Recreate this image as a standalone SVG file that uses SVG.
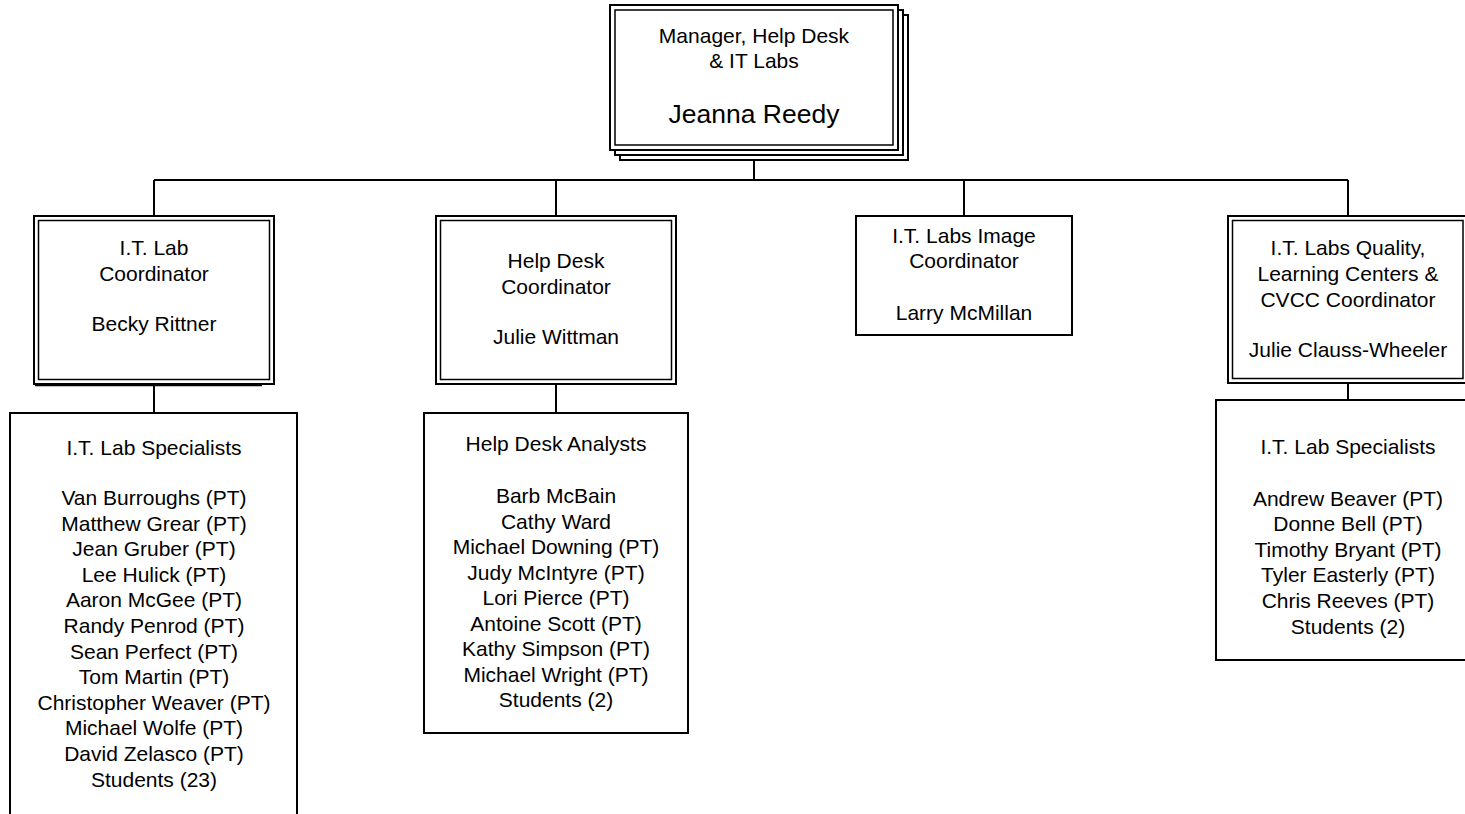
<svg xmlns="http://www.w3.org/2000/svg" width="1465" height="814" viewBox="0 0 1465 814">
<style>
text{font-family:"Liberation Sans",Arial,sans-serif;font-size:21px;fill:#000;text-anchor:middle}
.big{font-size:26.5px}
.o{fill:#fff;stroke:#000;stroke-width:2}
.i{fill:none;stroke:#000;stroke-width:1.5}
.c{fill:none;stroke:#000;stroke-width:2}
</style>
<rect width="1465" height="814" fill="#fff"/>
<g id="connectors">
<path class="c" d="M754 160V180M154 180H1348M154 180V216M556 180V216M964 180V216M1348 180V216M154 384V413M556 384V413M1348 383V400"/>
</g>
<g id="manager">
<rect class="o" x="620" y="15" width="288" height="145"/>
<rect class="o" x="615" y="10" width="288" height="145"/>
<rect class="o" x="610" y="5" width="288" height="145"/>
<rect class="i" x="615" y="10" width="278" height="135"/>
<text x="754" y="43">Manager, Help Desk</text>
<text x="754" y="68">&amp; IT Labs</text>
<text class="big" x="754" y="123">Jeanna Reedy</text>
</g>
<g id="lab-coordinator">
<rect class="o" x="34" y="216" width="240" height="168"/>
<rect class="i" x="38.5" y="220.5" width="231" height="159"/>
<path class="i" d="M35 385.5H262"/>
<text x="154" y="255">I.T. Lab</text>
<text x="154" y="281">Coordinator</text>
<text x="154" y="331">Becky Rittner</text>
</g>
<g id="helpdesk-coordinator">
<rect class="o" x="436" y="216" width="240" height="168"/>
<rect class="i" x="440.5" y="220.5" width="231" height="159"/>
<text x="556" y="268">Help Desk</text>
<text x="556" y="294">Coordinator</text>
<text x="556" y="344">Julie Wittman</text>
</g>
<g id="image-coordinator">
<rect class="o" x="856" y="216" width="216" height="119"/>
<text x="964" y="243">I.T. Labs Image</text>
<text x="964" y="268">Coordinator</text>
<text x="964" y="320">Larry McMillan</text>
</g>
<g id="quality-coordinator">
<rect class="o" x="1228" y="216" width="240" height="167"/>
<rect class="i" x="1232.5" y="220.5" width="230.5" height="158"/>
<text x="1348" y="255">I.T. Labs Quality,</text>
<text x="1348" y="281">Learning Centers &amp;</text>
<text x="1348" y="307">CVCC Coordinator</text>
<text x="1348" y="357">Julie Clauss-Wheeler</text>
</g>
<g id="lab-specialists-1">
<rect class="o" x="10" y="413" width="287" height="420"/>
<text x="154" y="455">I.T. Lab Specialists</text>
<text x="154" y="505">Van Burroughs (PT)</text>
<text x="154" y="530.6">Matthew Grear (PT)</text>
<text x="154" y="556.2">Jean Gruber (PT)</text>
<text x="154" y="581.8">Lee Hulick (PT)</text>
<text x="154" y="607.4">Aaron McGee (PT)</text>
<text x="154" y="633">Randy Penrod (PT)</text>
<text x="154" y="658.6">Sean Perfect (PT)</text>
<text x="154" y="684.2">Tom Martin (PT)</text>
<text x="154" y="709.8">Christopher Weaver (PT)</text>
<text x="154" y="735.4">Michael Wolfe (PT)</text>
<text x="154" y="761">David Zelasco (PT)</text>
<text x="154" y="786.6">Students (23)</text>
</g>
<g id="helpdesk-analysts">
<rect class="o" x="424" y="413" width="264" height="320"/>
<text x="556" y="451">Help Desk Analysts</text>
<text x="556" y="503">Barb McBain</text>
<text x="556" y="528.5">Cathy Ward</text>
<text x="556" y="554">Michael Downing (PT)</text>
<text x="556" y="579.5">Judy McIntyre (PT)</text>
<text x="556" y="605">Lori Pierce (PT)</text>
<text x="556" y="630.5">Antoine Scott (PT)</text>
<text x="556" y="656">Kathy Simpson (PT)</text>
<text x="556" y="681.5">Michael Wright (PT)</text>
<text x="556" y="707">Students (2)</text>
</g>
<g id="lab-specialists-2">
<rect class="o" x="1216" y="400" width="260" height="260"/>
<text x="1348" y="454">I.T. Lab Specialists</text>
<text x="1348" y="505.5">Andrew Beaver (PT)</text>
<text x="1348" y="531.1">Donne Bell (PT)</text>
<text x="1348" y="556.7">Timothy Bryant (PT)</text>
<text x="1348" y="582.3">Tyler Easterly (PT)</text>
<text x="1348" y="607.9">Chris Reeves (PT)</text>
<text x="1348" y="633.5">Students (2)</text>
</g>
</svg>
